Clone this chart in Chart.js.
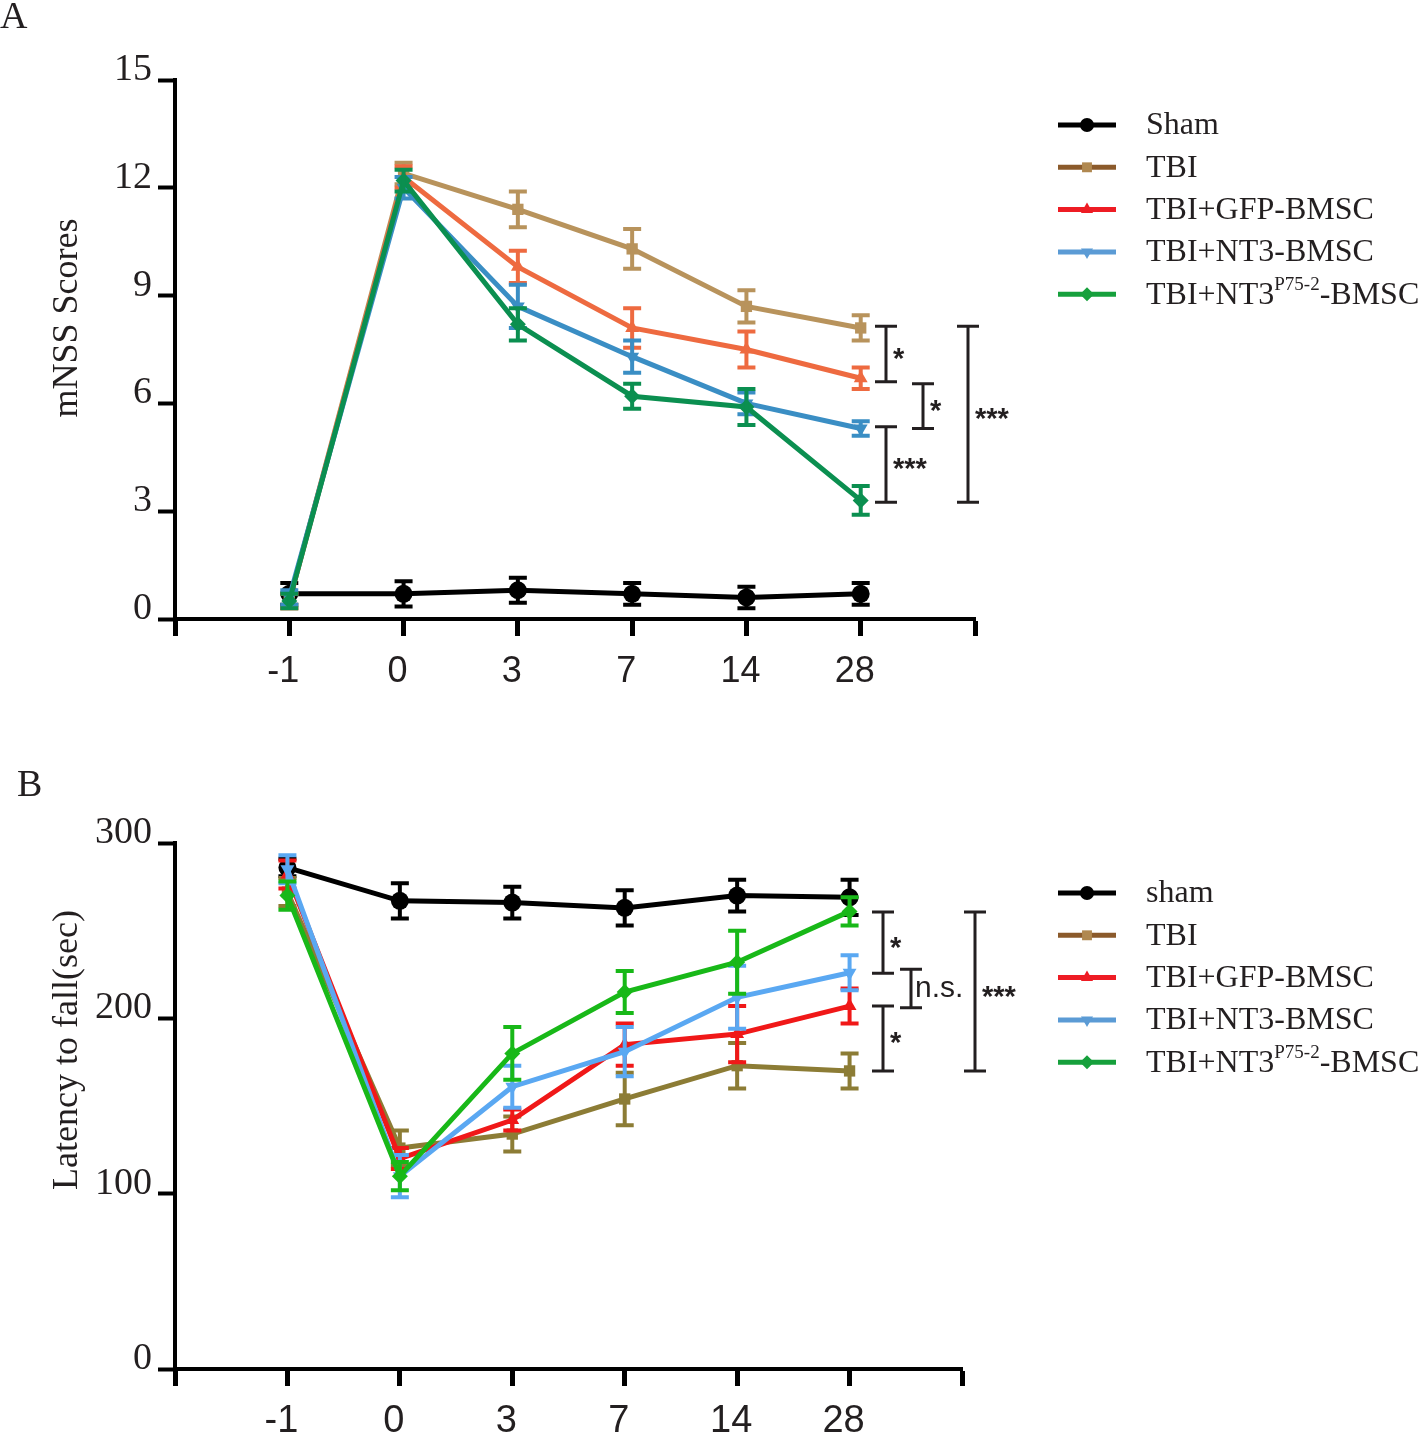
<!DOCTYPE html>
<html>
<head>
<meta charset="utf-8">
<script src="https://cdn.jsdelivr.net/npm/chart.js@4.4.1/dist/chart.umd.min.js"></script>
<style>
  html, body { margin: 0; padding: 0; background: #fff; }
  #wrap { position: relative; width: 1418px; height: 1435px; }
  canvas { position: absolute; left: 0; }
  #chartA { top: 0; }
  #chartB { top: 720px; }
</style>
</head>
<body>
<div id="wrap">
  <canvas id="chartA" width="1418" height="720"></canvas>
  <canvas id="chartB" width="1418" height="715"></canvas>
</div>
<script>
// days after injury (x categories)
const days = ['-1', '0', '3', '7', '14', '28'];

// panel A - mNSS scores
const shamA = [0.7, 0.7, 0.8, 0.7, 0.6, 0.7];
const shamAErr = [0.3, 0.35, 0.35, 0.3, 0.3, 0.3];
const tbiA = [0.5, 12.4, 11.4, 10.3, 8.7, 8.1];
const tbiAErr = [0.2, 0.3, 0.5, 0.55, 0.45, 0.35];
const gfpA = [0.5, 12.3, 9.8, 8.1, 7.5, 6.7];
const gfpAErr = [0.2, 0.3, 0.45, 0.55, 0.5, 0.3];
const nt3A = [0.6, 12.0, 8.7, 7.3, 6.0, 5.3];
const nt3AErr = [0.2, 0.3, 0.6, 0.45, 0.3, 0.2];
const p75A = [0.5, 12.2, 8.2, 6.2, 5.9, 3.3];
const p75AErr = [0.2, 0.3, 0.45, 0.35, 0.5, 0.4];
const ticksA = [0, 3, 6, 9, 12, 15];

// panel B - latency to fall (sec)
const shamB = [286, 267, 266, 263, 270, 269];
const shamBErr = [5, 10, 9, 10, 9, 10];
const tbiB = [272, 126, 134, 154, 173, 170];
const tbiBErr = [8, 10, 10, 15, 13, 10];
const gfpB = [282, 120, 142, 185, 191, 207];
const gfpBErr = [8, 6, 6, 12, 16, 10];
const nt3B = [285, 110, 161, 181, 212, 226];
const nt3BErr = [8, 12, 12, 14, 18, 10];
const p75B = [270, 110, 180, 215, 232, 261];
const p75BErr = [8, 8, 15, 12, 18, 8];
const ticksB = [0, 100, 200, 300];

// significance brackets: [from, to, label, column]
const sigA = [[8.15, 6.6, '*', 0], [6.55, 5.3, '*', 1], [5.35, 3.25, '***', 0], [8.15, 3.25, '***', 2]];
const sigB = [[260.6, 225.7, '*', 0], [228, 206, 'n.s.', 1], [207, 170, '*', 0], [260.6, 170, '***', 2]];

const SERIF = '"Liberation Serif", "Times New Roman", serif';
const SANS = '"Liberation Sans", Arial, sans-serif';
const INK = '#231f20';

function series(label, values, errors, color, style, rot, order) {
  return {
    label: label,
    data: values.map((v, i) => ({ x: i + 1, y: v })),
    errors: errors,
    borderColor: color,
    backgroundColor: color,
    pointBackgroundColor: color,
    pointBorderWidth: 0,
    pointStyle: style,
    pointRotation: rot,
    pointRadius: style === 'circle' ? 9 : 8,
    borderWidth: 5,
    tension: 0,
    order: order
  };
}

const extras = {
  id: 'extras',
  afterDatasetDraw(chart, args) {
    const ds = chart.data.datasets[args.index];
    const y = chart.scales.y;
    const ctx = chart.ctx;
    ctx.save();
    ctx.strokeStyle = ds.borderColor;
    ctx.lineWidth = 4;
    args.meta.data.forEach((pt, i) => {
      const v = ds.data[i].y, e = ds.errors[i];
      const y1 = y.getPixelForValue(v + e), y2 = y.getPixelForValue(v - e);
      ctx.beginPath();
      ctx.moveTo(pt.x, y1); ctx.lineTo(pt.x, y2);
      ctx.moveTo(pt.x - 9, y1); ctx.lineTo(pt.x + 9, y1);
      ctx.moveTo(pt.x - 9, y2); ctx.lineTo(pt.x + 9, y2);
      ctx.stroke();
    });
    ctx.restore();
  },
  afterDraw(chart, args, opts) {
    const ctx = chart.ctx;
    const y = chart.scales.y;
    ctx.save();

    // panel letter
    ctx.fillStyle = INK;
    ctx.font = '38px ' + SERIF;
    ctx.textBaseline = 'alphabetic';
    ctx.textAlign = 'left';
    ctx.fillText(opts.letter, opts.letterX, opts.letterY);

    // y-axis title
    ctx.save();
    ctx.translate(opts.titleX, opts.titleY);
    ctx.rotate(-Math.PI / 2);
    ctx.textAlign = 'center';
    ctx.textBaseline = 'middle';
    ctx.font = '36px ' + SERIF;
    ctx.fillText(opts.title, 0, 0);
    ctx.restore();

    // significance brackets
    ctx.strokeStyle = INK;
    ctx.lineWidth = 3;
    opts.sig.forEach(([a, b, label, col]) => {
      const x = opts.sigCols[col];
      const ya = y.getPixelForValue(a), yb = y.getPixelForValue(b);
      ctx.beginPath();
      ctx.moveTo(x - 11, ya); ctx.lineTo(x + 11, ya);
      ctx.moveTo(x - 11, yb); ctx.lineTo(x + 11, yb);
      ctx.moveTo(x, ya); ctx.lineTo(x, yb);
      ctx.stroke();
      ctx.textAlign = 'left';
      ctx.textBaseline = 'middle';
      if (label === 'n.s.') {
        ctx.font = '30px ' + SANS;
        ctx.fillText(label, x + 4, (ya + yb) / 2);
      } else {
        ctx.font = 'bold 29px ' + SANS;
        ctx.fillText(label, x + 7, (ya + yb) / 2 + 6);
      }
    });

    // legend
    chart.data.datasets.forEach((ds, i) => {
      const ry = opts.legendY + i * opts.legendStep;
      const lc = opts.legendColors[i];
      ctx.strokeStyle = lc;
      ctx.lineWidth = 5;
      ctx.beginPath();
      ctx.moveTo(1058, ry); ctx.lineTo(1116, ry);
      ctx.stroke();
      ctx.fillStyle = opts.markerColors[i];
      Chart.helpers.drawPoint(ctx, { pointStyle: ds.pointStyle, rotation: ds.pointRotation, radius: 7, borderWidth: 0 }, 1087, ry);
      ctx.fillStyle = INK;
      ctx.textBaseline = 'middle';
      ctx.textAlign = 'left';
      let tx = 1146;
      ds.label.split('^').forEach((part, k) => {
        if (k % 2 === 1) {
          ctx.font = '19px ' + SERIF;
          ctx.fillText(part, tx, ry - 9);
        } else {
          ctx.font = '32px ' + SERIF;
          ctx.fillText(part, tx, ry + 1);
        }
        tx += ctx.measureText(part).width;
      });
    });
    ctx.restore();
  }
};

function makeChart(id, sets, yMax, yStep, area, height, extraOpts, xFont, xPad) {
  return new Chart(document.getElementById(id).getContext('2d'), {
    type: 'line',
    data: { datasets: sets },
    options: {
      responsive: false,
      animation: false,
      devicePixelRatio: 1,
      layout: { padding: { left: 0, top: area.top, right: 1418 - area.right, bottom: 0 } },
      plugins: { legend: { display: false }, tooltip: { enabled: false }, extras: extraOpts },
      scales: {
        x: {
          type: 'linear',
          min: 0, max: 7,
          afterFit(s) { s.height = height - area.bottom; },
          border: { display: true, color: '#000', width: 4 },
          grid: { display: true, drawOnChartArea: false, drawTicks: true, tickLength: 17, tickWidth: 5, tickColor: '#000', color: '#000' },
          ticks: {
            stepSize: 1, autoSkip: false, maxRotation: 0, padding: xPad, labelOffset: -6,
            color: INK, font: { family: SANS, size: xFont },
            callback: (v) => days[v - 1] || ''
          }
        },
        y: {
          min: 0, max: yMax,
          afterFit(s) { s.width = area.left; },
          border: { display: true, color: '#000', width: 4 },
          grid: { display: true, drawOnChartArea: false, drawTicks: true, tickLength: 17, tickWidth: 4, tickColor: '#000', color: '#000' },
          ticks: { stepSize: yStep, padding: 6, labelOffset: -10, color: INK, font: { family: SERIF, size: 38 } }
        }
      }
    },
    plugins: [extras]
  });
}

const legendColors = ['#000000', '#8b5a2b', '#ee1c24', '#5b9bd5', '#16a03c'];
const markerColors = ['#000000', '#b08850', '#ee1c24', '#5b9bd5', '#16a03c'];

makeChart('chartA', [
  series('Sham', shamA, shamAErr, '#000000', 'circle', 0, 4),
  series('TBI', tbiA, tbiAErr, '#b8935c', 'rect', 0, 3),
  series('TBI+GFP-BMSC', gfpA, gfpAErr, '#ee6a40', 'triangle', 0, 2),
  series('TBI+NT3-BMSC', nt3A, nt3AErr, '#3a8ec4', 'triangle', 180, 1),
  series('TBI+NT3^P75-2^-BMSC', p75A, p75AErr, '#0b8f50', 'rectRot', 0, 0)
], 15, 3, { left: 175, top: 80, right: 975, bottom: 619 }, 720, {
  letter: 'A', letterX: 0, letterY: 28,
  title: 'mNSS Scores', titleX: 68, titleY: 318,
  sig: sigA, sigCols: [886, 923, 968],
  legendY: 125, legendStep: 42.3, legendColors: legendColors, markerColors: markerColors
}, 36, 14);

makeChart('chartB', [
  series('sham', shamB, shamBErr, '#000000', 'circle', 0, 4),
  series('TBI', tbiB, tbiBErr, '#8c7c35', 'rect', 0, 3),
  series('TBI+GFP-BMSC', gfpB, gfpBErr, '#f01818', 'triangle', 0, 2),
  series('TBI+NT3-BMSC', nt3B, nt3BErr, '#5aa8f2', 'triangle', 180, 1),
  series('TBI+NT3^P75-2^-BMSC', p75B, p75BErr, '#18b818', 'rectRot', 0, 0)
], 300, 100, { left: 175, top: 123, right: 962, bottom: 649 }, 715, {
  letter: 'B', letterX: 17, letterY: 76,
  title: 'Latency to fall(sec)', titleX: 68, titleY: 330,
  sig: sigB, sigCols: [883, 911, 975],
  legendY: 173, legendStep: 42.3, legendColors: legendColors, markerColors: markerColors
}, 38, 13);
</script>
</body>
</html>
